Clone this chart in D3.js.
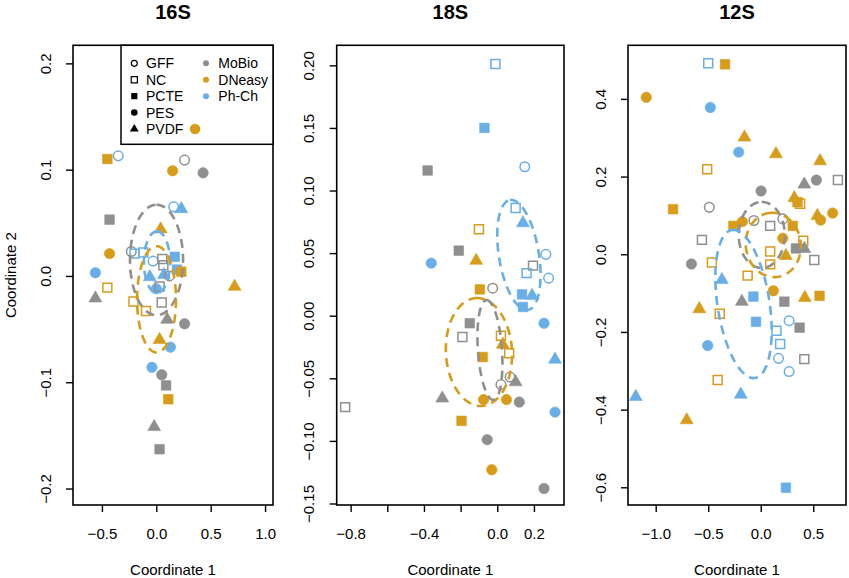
<!DOCTYPE html>
<html>
<head>
<meta charset="utf-8">
<script src="https://cdn.jsdelivr.net/npm/d3@7"></script>
<style>
  body { margin: 0; background: #fff; }
  svg text { font-family: "Liberation Sans", Arial, Helvetica, sans-serif; fill: #000; }
</style>
</head>
<body>
<div id="chart"></div>
<script>
const kits = ['MoBio', 'DNeasy', 'Ph-Ch']
const kitColors = ['#8f8f8f', '#d89c1b', '#6aaee7']
const filters = ['GFF', 'NC', 'PCTE', 'PES', 'PVDF']
const panelTitles = ['16S', '18S', '12S']

// [kit, filter, coordinate 1, coordinate 2]
const pts16S = [
  ['DNeasy','PCTE',-0.45,0.110], ['Ph-Ch','GFF',-0.35,0.113], ['MoBio','GFF',0.26,0.109],
  ['DNeasy','PES',0.15,0.099], ['MoBio','PES',0.43,0.097], ['Ph-Ch','GFF',0.16,0.065],
  ['Ph-Ch','PVDF',0.23,0.063], ['MoBio','PCTE',-0.43,0.053], ['DNeasy','PVDF',0.04,0.044],
  ['DNeasy','PES',-0.43,0.021], ['MoBio','GFF',-0.23,0.023], ['Ph-Ch','NC',-0.20,0.021],
  ['Ph-Ch','NC',-0.12,0.022], ['Ph-Ch','GFF',-0.03,0.014], ['MoBio','NC',0.055,0.016],
  ['MoBio','NC',0.065,0.010], ['Ph-Ch','PCTE',0.17,0.018], ['Ph-Ch','PCTE',0.19,0.006],
  ['DNeasy','PCTE',0.23,0.004], ['Ph-Ch','PES',-0.56,0.003], ['Ph-Ch','PVDF',-0.06,-0.001],
  ['Ph-Ch','PVDF',0.07,0.001], ['MoBio','GFF',0.12,0.000], ['DNeasy','PVDF',0.72,-0.010],
  ['DNeasy','NC',-0.45,-0.011], ['Ph-Ch','PES',0.00,-0.012], ['MoBio','NC',0.03,-0.010],
  ['MoBio','PVDF',-0.56,-0.021], ['DNeasy','NC',-0.21,-0.024], ['MoBio','NC',0.05,-0.025],
  ['DNeasy','NC',-0.095,-0.033], ['MoBio','PVDF',0.10,-0.041], ['MoBio','PES',0.26,-0.045],
  ['DNeasy','PVDF',0.03,-0.060], ['Ph-Ch','PES',0.13,-0.067], ['Ph-Ch','PES',-0.04,-0.086],
  ['MoBio','PES',0.05,-0.093], ['MoBio','PCTE',0.09,-0.103], ['DNeasy','PCTE',0.11,-0.116],
  ['MoBio','PVDF',-0.02,-0.142], ['MoBio','PCTE',0.03,-0.163]
]

const pts18S = [
  ['Ph-Ch','NC',-0.01,0.201], ['Ph-Ch','PCTE',-0.07,0.150], ['MoBio','PCTE',-0.38,0.116],
  ['Ph-Ch','GFF',0.15,0.119], ['Ph-Ch','NC',0.10,0.086], ['Ph-Ch','PVDF',0.14,0.074],
  ['DNeasy','NC',-0.10,0.069], ['MoBio','PCTE',-0.21,0.052], ['DNeasy','PVDF',-0.115,0.044],
  ['Ph-Ch','PES',-0.36,0.042], ['Ph-Ch','GFF',0.265,0.049], ['MoBio','NC',0.195,0.040],
  ['Ph-Ch','NC',0.16,0.034], ['Ph-Ch','GFF',0.28,0.030], ['DNeasy','PCTE',-0.095,0.021],
  ['MoBio','GFF',-0.025,0.022], ['Ph-Ch','PCTE',0.135,0.017], ['Ph-Ch','PVDF',0.19,0.016],
  ['Ph-Ch','PCTE',0.14,0.007], ['Ph-Ch','PES',0.255,-0.006], ['MoBio','PCTE',-0.15,-0.006],
  ['MoBio','NC',-0.19,-0.017], ['DNeasy','NC',0.02,-0.016], ['DNeasy','PVDF',0.03,-0.023],
  ['DNeasy','NC',0.065,-0.030], ['DNeasy','PCTE',-0.08,-0.033], ['Ph-Ch','PVDF',0.315,-0.035],
  ['MoBio','GFF',0.07,-0.049], ['MoBio','PVDF',0.10,-0.053], ['MoBio','GFF',0.02,-0.055],
  ['MoBio','PVDF',-0.30,-0.066], ['DNeasy','PES',-0.075,-0.067], ['DNeasy','PES',0.05,-0.067],
  ['MoBio','PES',0.12,-0.069], ['MoBio','NC',-0.83,-0.073], ['Ph-Ch','PES',0.315,-0.077],
  ['DNeasy','PCTE',-0.195,-0.084], ['MoBio','PES',-0.055,-0.099], ['DNeasy','PES',-0.03,-0.123],
  ['MoBio','PES',0.255,-0.138]
]

const pts12S = [
  ['Ph-Ch','NC',-0.50,0.492], ['DNeasy','PCTE',-0.34,0.489], ['DNeasy','PES',-1.09,0.404],
  ['Ph-Ch','PES',-0.48,0.378], ['DNeasy','PVDF',-0.155,0.301], ['Ph-Ch','PES',-0.21,0.263],
  ['DNeasy','PVDF',0.145,0.258], ['DNeasy','NC',-0.51,0.219], ['DNeasy','PVDF',0.565,0.240],
  ['MoBio','PVDF',0.415,0.180], ['MoBio','PES',0.53,0.191], ['MoBio','NC',0.735,0.191],
  ['MoBio','PES',0.003,0.163], ['DNeasy','PCTE',-0.835,0.116], ['MoBio','GFF',-0.49,0.121],
  ['DNeasy','PVDF',0.32,0.145], ['DNeasy','PCTE',0.35,0.134], ['DNeasy','NC',0.375,0.130],
  ['DNeasy','PVDF',0.54,0.099], ['DNeasy','PES',0.57,0.088], ['DNeasy','PES',0.685,0.106],
  ['DNeasy','PCTE',-0.26,0.073], ['DNeasy','PES',-0.175,0.084], ['MoBio','GFF',-0.065,0.087],
  ['MoBio','NC',0.09,0.073], ['MoBio','GFF',0.21,0.091], ['DNeasy','PCTE',0.305,0.073],
  ['MoBio','NC',-0.56,0.037], ['DNeasy','PES',0.21,0.041], ['DNeasy','NC',0.405,0.035],
  ['MoBio','PCTE',0.335,0.015], ['MoBio','PVDF',0.415,0.014], ['MoBio','NC',0.51,-0.015],
  ['DNeasy','NC',0.09,0.007], ['DNeasy','NC',0.09,-0.026], ['DNeasy','PVDF',0.24,-0.004],
  ['MoBio','PES',-0.66,-0.025], ['DNeasy','NC',-0.465,-0.021], ['DNeasy','NC',-0.125,-0.055],
  ['Ph-Ch','PVDF',-0.37,-0.066], ['DNeasy','PES',0.12,-0.094], ['Ph-Ch','PCTE',-0.07,-0.109],
  ['MoBio','PVDF',-0.18,-0.122], ['MoBio','PCTE',0.225,-0.122], ['DNeasy','PVDF',0.42,-0.112],
  ['DNeasy','PCTE',0.56,-0.107], ['DNeasy','PVDF',-0.585,-0.141], ['DNeasy','NC',-0.39,-0.153],
  ['Ph-Ch','PCTE',-0.045,-0.174], ['Ph-Ch','GFF',0.27,-0.171], ['MoBio','PCTE',0.37,-0.189],
  ['Ph-Ch','NC',0.15,-0.197], ['Ph-Ch','NC',0.185,-0.231], ['Ph-Ch','PES',-0.505,-0.235],
  ['Ph-Ch','GFF',0.17,-0.268], ['MoBio','NC',0.415,-0.270], ['Ph-Ch','GFF',0.27,-0.302],
  ['DNeasy','NC',-0.41,-0.324], ['Ph-Ch','PVDF',-0.19,-0.361], ['Ph-Ch','PVDF',-1.19,-0.367],
  ['DNeasy','PVDF',-0.705,-0.427], ['Ph-Ch','PCTE',0.24,-0.601]
]

// ellipses: [kit, centre x, centre y, axis u (x, y), axis v (x, y)]
const ell16S = [
  ['MoBio', 0.002, 0.015, 0, 0.052, 0.244, 0],
  ['Ph-Ch', 0.006, 0.013, 0, 0.029, 0.12, 0],
  ['DNeasy', 0.002, -0.022, 0, 0.050, 0.179, 0]
]
const ell18S = [
  ['Ph-Ch', 0.118, 0.0485, -0.049, 0.0439, 0.1075, 0.0026],
  ['DNeasy', -0.100, -0.029, -0.0164, 0.0431, 0.180, 0.0016],
  ['MoBio', -0.040, -0.0274, -0.019, 0.0399, 0.0655, 0.0007]
]
const ell12S = [
  ['MoBio', 0.0095, 0.0497, 0, 0.085, 0.219, 0],
  ['DNeasy', 0.12, 0.024, -0.038, 0.0824, 0.26, 0.0088],
  ['Ph-Ch', -0.164, -0.128, -0.1095, 0.1906, 0.2448, 0.0103]
]

// axis domains and ticks
const xDom16S = [-0.766, 1.073], yDom16S = [-0.2155, 0.217]
const xDom18S = [-0.876, 0.364], yDom18S = [-0.1512, 0.216]
const xDom12S = [-1.264, 0.812], yDom12S = [-0.6456, 0.538]
const xTicks16S = [-0.5, 0, 0.5, 1.0], xLabels16S = ['\u22120.5', '0.0', '0.5', '1.0']
const yTicks16S = [-0.2, -0.1, 0, 0.1, 0.2], yLabels16S = ['\u22120.2', '\u22120.1', '0.0', '0.1', '0.2']
const xTicks18S = [-0.8, -0.6, -0.4, -0.2, 0, 0.2], xLabels18S = ['\u22120.8', '', '\u22120.4', '', '0.0', '0.2']
const yTicks18S = [-0.15, -0.10, -0.05, 0, 0.05, 0.10, 0.15, 0.20]
const yLabels18S = ['\u22120.15', '\u22120.10', '\u22120.05', '0.00', '0.05', '0.10', '0.15', '0.20']
const xTicks12S = [-1.0, -0.5, 0, 0.5], xLabels12S = ['\u22121.0', '\u22120.5', '0.0', '0.5']
const yTicks12S = [-0.6, -0.4, -0.2, 0, 0.2, 0.4], yLabels12S = ['\u22120.6', '\u22120.4', '\u22120.2', '0.0', '0.2', '0.4']

const W = 849, H = 578
const plotTop = 45.3, plotBottom = 505

var svg = d3.select('#chart').append('svg')
    .attr('width', W).attr('height', H)
    .attr('viewBox', `0 0 ${W} ${H}`)

var color = d3.scaleOrdinal().domain(kits).range(kitColors)

// symbol shape & fill for each filter
var shapeOf = { GFF: d3.symbolCircle, NC: d3.symbolSquare, PCTE: d3.symbolSquare, PES: d3.symbolCircle, PVDF: d3.symbolTriangle }
var sizeOf = { GFF: 72, NC: 80, PCTE: 92, PES: 86, PVDF: 72 }
var openOf = { GFF: true, NC: true, PCTE: false, PES: false, PVDF: false }

var panels = [
  { title: panelTitles[0], left: 73, right: 273, pts: pts16S, ell: ell16S, xDom: xDom16S, yDom: yDom16S,
    xT: xTicks16S, xL: xLabels16S, yT: yTicks16S, yL: yLabels16S },
  { title: panelTitles[1], left: 336.7, right: 564, pts: pts18S, ell: ell18S, xDom: xDom18S, yDom: yDom18S,
    xT: xTicks18S, xL: xLabels18S, yT: yTicks18S, yL: yLabels18S },
  { title: panelTitles[2], left: 628, right: 846, pts: pts12S, ell: ell12S, xDom: xDom12S, yDom: yDom12S,
    xT: xTicks12S, xL: xLabels12S, yT: yTicks12S, yL: yLabels12S }
]

panels.forEach(function(p, i) {
  var x = d3.scaleLinear().domain(p.xDom).range([p.left, p.right])
  var y = d3.scaleLinear().domain(p.yDom).range([plotBottom, plotTop])
  var g = svg.append('g').attr('class', 'panel')

  // points
  g.append('g').selectAll('path').data(p.pts)
    .enter().append('path')
      .attr('transform', d => 'translate(' + x(d[2]) + ',' + y(d[3]) + ')')
      .attr('d', d => d3.symbol().type(shapeOf[d[1]]).size(sizeOf[d[1]])())
      .attr('fill', d => openOf[d[1]] ? 'none' : color(d[0]))
      .attr('stroke', d => color(d[0]))
      .attr('stroke-width', d => openOf[d[1]] ? 1.5 : 0.6)

  // dispersion ellipses
  var line = d3.line().x(d => x(d[0])).y(d => y(d[1])).curve(d3.curveLinearClosed)
  g.append('g').selectAll('path').data(p.ell)
    .enter().append('path')
      .attr('d', function(e) {
        var pts = d3.range(0, 100).map(function(k) {
          var t = k / 100 * 2 * Math.PI
          return [e[1] + e[3] * Math.cos(t) + e[5] * Math.sin(t),
                  e[2] + e[4] * Math.cos(t) + e[6] * Math.sin(t)]
        })
        return line(pts)
      })
      .attr('fill', 'none')
      .attr('stroke', e => color(e[0]))
      .attr('stroke-width', 2.6)
      .attr('stroke-dasharray', '9,6')

  // box
  g.append('rect')
    .attr('x', p.left).attr('y', plotTop)
    .attr('width', p.right - p.left).attr('height', plotBottom - plotTop)
    .attr('fill', 'none').attr('stroke', '#000').attr('stroke-width', 1.6)

  // x axis
  var xAxis = d3.axisBottom(x).tickValues(p.xT).tickSize(7)
      .tickFormat((d, k) => p.xL[k])
  var gx = g.append('g').attr('transform', 'translate(0,' + plotBottom + ')').call(xAxis)
  gx.select('.domain').remove()
  gx.selectAll('line').attr('stroke-width', 1.4)
  gx.selectAll('text').attr('y', 33.5).attr('dy', 0)
    .style('font-size', '15px').style('font-family', '"Liberation Sans", Arial, sans-serif')

  // y axis
  var yAxis = d3.axisLeft(y).tickValues(p.yT).tickSize(7)
      .tickFormat((d, k) => p.yL[k])
  var gy = g.append('g').attr('transform', 'translate(' + p.left + ',0)').call(yAxis)
  gy.select('.domain').remove()
  gy.selectAll('line').attr('stroke-width', 1.4)
  gy.selectAll('text').attr('x', 0).attr('dy', 0)
    .attr('text-anchor', 'middle')
    .attr('transform', 'translate(-22.5,0) rotate(-90)')
    .style('font-size', '15px').style('font-family', '"Liberation Sans", Arial, sans-serif')

  // titles
  g.append('text')
    .attr('x', (p.left + p.right) / 2).attr('y', 18.5)
    .attr('text-anchor', 'middle')
    .style('font-size', '20px').style('font-weight', 'bold')
    .text(p.title)
  g.append('text')
    .attr('x', (p.left + p.right) / 2).attr('y', 575)
    .attr('text-anchor', 'middle')
    .style('font-size', '15px')
    .text('Coordinate 1')
})

svg.append('text')
  .attr('transform', 'translate(16,' + (plotTop + plotBottom) / 2 + ') rotate(-90)')
  .attr('text-anchor', 'middle')
  .style('font-size', '15px')
  .text('Coordinate 2')

// legend in the 16S panel
var leg = svg.append('g')
leg.append('rect')
  .attr('x', 121).attr('y', plotTop).attr('width', 273 - 121).attr('height', 144.3 - plotTop)
  .attr('fill', '#fff').attr('stroke', '#000').attr('stroke-width', 1.5)

var rowY = d3.scalePoint().domain(d3.range(5)).range([63.3, 129])

var legShape = { GFF: 28, NC: 38, PCTE: 38, PES: 34, PVDF: 34 }
leg.selectAll('.lf').data(filters)
  .enter().append('path')
    .attr('class', 'lf')
    .attr('transform', (d, k) => 'translate(134.3,' + rowY(k) + ')')
    .attr('d', d => d3.symbol().type(shapeOf[d]).size(legShape[d])())
    .attr('fill', d => openOf[d] ? 'none' : '#000')
    .attr('stroke', '#000').attr('stroke-width', d => openOf[d] ? 1.2 : 0)
leg.selectAll('.lft').data(filters)
  .enter().append('text')
    .attr('x', 146).attr('y', (d, k) => rowY(k) + 5)
    .style('font-size', '14px')
    .text(d => d)

leg.selectAll('.lk').data(kits)
  .enter().append('circle')
    .attr('cx', 206).attr('cy', (d, k) => rowY(k))
    .attr('r', 3).attr('fill', d => color(d))
leg.selectAll('.lkt').data(kits)
  .enter().append('text')
    .attr('x', 218.3).attr('y', (d, k) => rowY(k) + 5)
    .style('font-size', '14px')
    .text(d => d)
leg.append('circle')
  .attr('cx', 195).attr('cy', rowY(4))
  .attr('r', 5.3).attr('fill', color('DNeasy'))
</script>
</body>
</html>
